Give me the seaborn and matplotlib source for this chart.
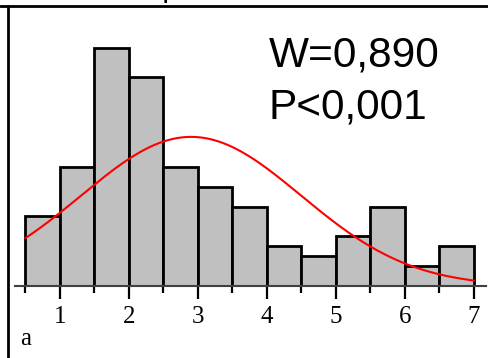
import numpy as np
import pandas as pd
import matplotlib
matplotlib.use("Agg")
import matplotlib.pyplot as plt
from matplotlib.lines import Line2D
import seaborn as sns

# Histogram bins (width 0.5) and counts per bin
bin_edges = [0.5, 1.0, 1.5, 2.0, 2.5, 3.0, 3.5, 4.0, 4.5, 5.0, 5.5, 6.0, 6.5, 7.0]
bin_counts = [7, 12, 24, 21, 12, 10, 8, 4, 3, 5, 8, 2, 4]
major_ticks = [1, 2, 3, 4, 5, 6, 7]
minor_ticks = [0.5, 1.5, 2.5, 3.5, 4.5, 5.5, 6.5]
stat_lines = ["W=0,890", "P<0,001"]
panel_label = "a"

sns.set_style("white")
plt.rcParams["font.family"] = ["Liberation Serif", "DejaVu Serif"]
plt.rcParams["text.color"] = "black"
plt.rcParams["xtick.color"] = "black"
plt.rcParams["xtick.labelcolor"] = "black"

edges = np.array(bin_edges)
counts = np.array(bin_counts)
mids = (edges[:-1] + edges[1:]) / 2
width = edges[1] - edges[0]
df = pd.DataFrame({"value": mids, "count": counts})

# Normal curve fitted to the binned data, scaled to counts
n = counts.sum()
mu = np.sum(counts * mids) / n
sd = np.sqrt(np.sum(counts * (mids - mu) ** 2) / n)
xs = np.linspace(edges[0], edges[-1], 300)
fit = n * width * np.exp(-0.5 * ((xs - mu) / sd) ** 2) / (sd * np.sqrt(2 * np.pi))
curve = pd.DataFrame({"x": xs, "y": fit})

W, H = 488, 358
fig = plt.figure(figsize=(W / 100, H / 100), dpi=100)
ax = fig.add_axes([15 / W, (H - 286) / H, 471 / W, 280 / H])

sns.histplot(data=df, x="value", weights="count", bins=list(bin_edges), stat="count",
             color="#c0c0c0", edgecolor="black", linewidth=2.0, alpha=1.0, ax=ax)
sns.lineplot(data=curve, x="x", y="y", color="#ff0000", linewidth=1.5, ax=ax)

ax.set_xlim(0.348, 7.174)
ax.set_ylim(0, 28.2)
ax.set_xlabel("")
ax.set_ylabel("")
ax.set_yticks([])
for side in ["left", "right", "top"]:
    ax.spines[side].set_visible(False)
ax.spines["bottom"].set_color("#404040")
ax.spines["bottom"].set_linewidth(1.5)
ax.spines["bottom"].set_zorder(5)

ax.set_xticks(major_ticks)
ax.set_xticklabels([str(t) for t in major_ticks])
ax.set_xticks(minor_ticks, minor=True)
ax.tick_params(axis="x", which="major", direction="out", length=9.5, width=1.6,
               color="black", labelcolor="black", labelsize=18, pad=5, bottom=True)
ax.tick_params(axis="x", which="minor", direction="out", length=5, width=1.6,
               color="black", bottom=True)

# Test statistic annotation
for i, line in enumerate(stat_lines):
    fig.text(269 / W, 1 - (67 + 51 * i) / H, line, family="Liberation Sans",
             fontsize=30.5, color="black", ha="left", va="baseline")

fig.text(20 / W, 1 - 345 / H, panel_label, family="Liberation Serif",
         fontsize=18, color="black", ha="left", va="baseline")

# Partial heading above the panel frame
fig.text(163 / W, 1 + 1 / H, "p", family="Liberation Sans", fontweight="bold",
         fontsize=14, color="black", ha="left", va="baseline")

# Panel frame: top and left rules
fig.add_artist(Line2D([0, 1], [1 - 5.5 / H, 1 - 5.5 / H], transform=fig.transFigure,
                      color="black", linewidth=2))
fig.add_artist(Line2D([8 / W, 8 / W], [0, 1 - 5.5 / H], transform=fig.transFigure,
                      color="black", linewidth=2))

fig.savefig("out.png", dpi=100)
